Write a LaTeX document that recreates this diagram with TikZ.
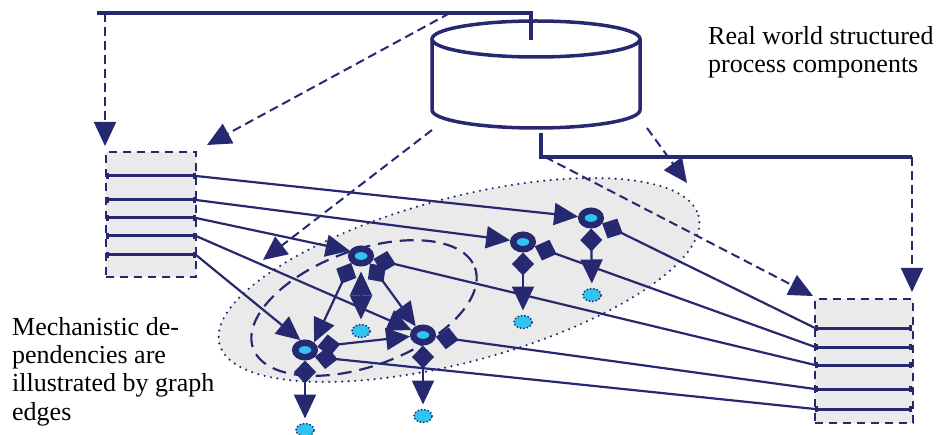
\documentclass[tikz,border=0pt]{standalone}
\usepackage{fontspec}
\setmainfont{Liberation Serif}
\usetikzlibrary{arrows.meta,shapes.geometric}
\definecolor{navy}{RGB}{38,40,112}
\definecolor{cyanf}{RGB}{50,196,240}
\definecolor{grayf}{RGB}{234,234,234}
\tikzset{
  tri/.tip={Triangle[length=24pt,width=22pt]},
  dmd/.tip={Diamond[length=23pt,width=22pt]},
  solidl/.style={draw=navy,line width=3.2pt},
  dashl/.style={draw=navy,line width=2pt,dash pattern=on 9pt off 5pt,-{tri}},
  ring/.style={ellipse,draw=navy,fill=cyanf,line width=6.5pt,minimum width=19.5pt,minimum height=14.5pt,inner sep=0pt},
  dotn/.style={ellipse,draw=navy,fill=cyanf,line width=2pt,dash pattern=on 0pt off 3.4pt,line cap=round,minimum width=18pt,minimum height=13pt,inner sep=0pt},
  dep/.style={draw=navy,line width=2.2pt,-{tri}},
  dia/.style={draw=navy,line width=2.2pt,{dmd}-},
  diaarr/.style={draw=navy,line width=2.2pt,{dmd}-{tri}},
  dblarr/.style={draw=navy,line width=2.2pt,{tri}-{tri}},
  boxn/.style={draw=navy,fill=grayf,line width=2.5pt,dash pattern=on 8pt off 6pt,inner sep=0pt},
  slot/.style={draw=navy,line width=3pt,{Bar[width=6pt]}-{Bar[width=6pt]}},
  lbl/.style={font=\fontsize{26pt}{28.3pt}\selectfont,align=left,anchor=base west,inner sep=0pt}
}
\begin{document}
\begin{tikzpicture}[x=1pt,y=-1pt]
\useasboundingbox (0,0) rectangle (941,435);
\draw[draw=navy,fill=grayf,line width=2.4pt,dash pattern=on 0pt off 6.5pt,line cap=round,rotate around={15:(459,280)}] (459,280) ellipse [x radius=248,y radius=82];
\draw[navy,line width=2.2pt,dash pattern=on 14pt off 8pt,rotate around={20:(364,308)}] (364,308) ellipse [x radius=118,y radius=58];
\node[boxn,minimum width=90pt,minimum height=125pt] (lbox) at (151,214.5) {};
\node[boxn,minimum width=98pt,minimum height=124pt] (rbox) at (864,361) {};
\coordinate (lw1) at (106,176);
\coordinate (lw2) at (106,200);
\coordinate (lw3) at (106,218);
\coordinate (lw4) at (106,236);
\coordinate (lw5) at (106,255);
\coordinate (l1) at (196,176);
\coordinate (l2) at (196,200);
\coordinate (l3) at (196,218);
\coordinate (l4) at (196,236);
\coordinate (l5) at (196,255);
\coordinate (r1) at (815,328);
\coordinate (r2) at (815,347);
\coordinate (r3) at (815,365);
\coordinate (r4) at (815,389);
\coordinate (r5) at (815,409);
\coordinate (re1) at (912,328);
\coordinate (re2) at (912,347);
\coordinate (re3) at (912,365);
\coordinate (re4) at (912,389);
\coordinate (re5) at (912,409);
\draw[slot] (lw1) -- (l1);
\draw[slot] (lw2) -- (l2);
\draw[slot] (lw3) -- (l3);
\draw[slot] (lw4) -- (l4);
\draw[slot] (lw5) -- (l5);
\draw[slot] (r1) -- (re1);
\draw[slot] (r2) -- (re2);
\draw[slot] (r3) -- (re3);
\draw[slot] (r4) -- (re4);
\draw[slot] (r5) -- (re5);
\draw[navy,line width=3.5pt,fill=white] (432,39) -- (432,110) arc[start angle=180,end angle=0,x radius=104,y radius=18] -- (640,39);
\draw[navy,line width=3.5pt] (536,39) ellipse [x radius=104,y radius=18];
\draw[solidl] (97,13) -- (531,13) -- (531,40);
\draw[solidl] (541,133) -- (541,157) -- (912,157);
\coordinate (t1) at (105,13);
\coordinate (t2) at (450,13);
\coordinate (c1) at (432,130);
\coordinate (c2) at (647,128);
\coordinate (b1) at (545,157);
\coordinate (b2) at (912,157);
\coordinate (a1) at (105,146);
\coordinate (a2) at (207,145);
\coordinate (a3) at (263,260);
\coordinate (a4) at (687,183);
\coordinate (a5) at (813,296);
\coordinate (a6) at (912,292);
\draw[dashl] (t1) -- (a1);
\draw[dashl] (t2) -- (a2);
\draw[dashl] (c1) -- (a3);
\draw[dashl] (c2) -- (a4);
\draw[dashl] (b1) -- (a5);
\draw[dashl] (b2) -- (a6);
\node[ring] (n1) at (361,256) {};
\node[ring] (n2) at (305,350) {};
\node[ring] (n3) at (423,335) {};
\node[ring] (n4) at (523,242) {};
\node[ring] (n5) at (591,218) {};
\node[dotn] (d1) at (361,331) {};
\node[dotn] (d2) at (305,430) {};
\node[dotn] (d3) at (423,416) {};
\node[dotn] (d4) at (523,322) {};
\node[dotn] (d5) at (592,295) {};
\draw[dep] (l1) -- (n5);
\draw[dep] (l2) -- (n4);
\draw[dep] (l3) -- (n1.155);
\draw[dep] (l4) -- (n3);
\draw[dep] (l5) -- (n2.115);
\draw[dia] (n5) -- (r1);
\draw[dia] (n4) -- (r2);
\draw[dia] (n1) -- (r3);
\draw[dia] (n3) -- (r4);
\draw[dia] (n2.325) -- (r5);
\draw[diaarr] (n2.15) -- (n3);
\draw[diaarr] (n1.215) -- (n2.40);
\draw[diaarr] (n1.320) -- (n3.130);
\draw[dblarr,shorten <=5pt,shorten >=4pt] (n1) -- (d1);
\draw[diaarr,shorten >=4pt] (n2) -- (d2);
\draw[diaarr,shorten >=4pt] (n3) -- (d3);
\draw[diaarr,shorten >=4pt] (n4) -- (d4);
\draw[diaarr,shorten >=4pt] (n5) -- (d5);
\node[lbl] (rwtext) at (708,73) {Real world structured\\process components};
\node[lbl] (mdtext) at (12,420) {Mechanistic de-\\pendencies are\\illustrated by graph\\edges};
\end{tikzpicture}
\end{document}
